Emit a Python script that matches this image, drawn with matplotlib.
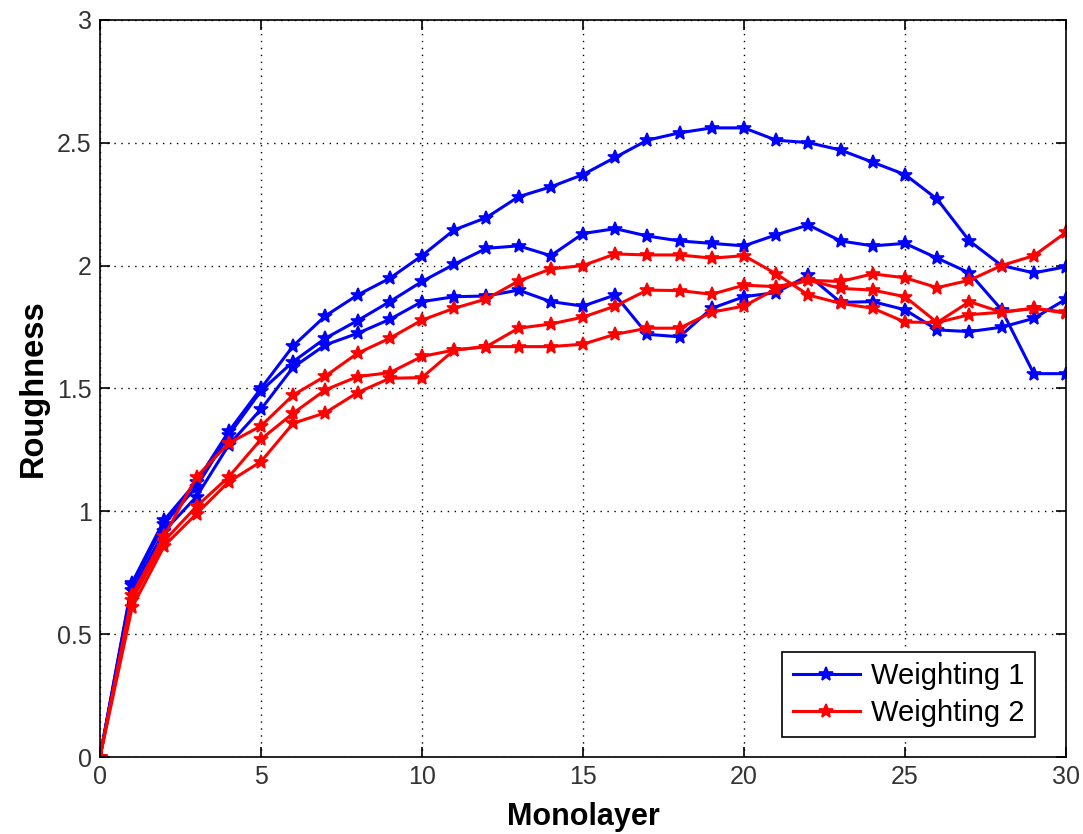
import matplotlib.pyplot as plt
import numpy as np

plt.rcParams['font.family'] = ['Liberation Sans', 'DejaVu Sans']

monolayer = np.arange(0, 31)

# Weighting 1 (three runs)
w1_a = [0, 0.71, 0.965, 1.12, 1.325, 1.50, 1.673, 1.795, 1.88, 1.948, 2.04,
        2.145, 2.195, 2.28, 2.32, 2.37, 2.44, 2.51, 2.54, 2.56, 2.56,
        2.51, 2.50, 2.47, 2.42, 2.37, 2.27, 2.10, 2.00, 1.97, 1.995]
w1_b = [0, 0.70, 0.95, 1.10, 1.31, 1.49, 1.609, 1.704, 1.776, 1.853, 1.935,
        2.005, 2.07, 2.08, 2.04, 2.13, 2.15, 2.12, 2.10, 2.09, 2.08,
        2.125, 2.165, 2.10, 2.08, 2.09, 2.03, 1.97, 1.82, 1.56, 1.56]
w1_c = [0, 0.68, 0.92, 1.06, 1.27, 1.415, 1.586, 1.677, 1.724, 1.781, 1.853,
        1.873, 1.876, 1.90, 1.853, 1.835, 1.88, 1.72, 1.71, 1.826, 1.873,
        1.89, 1.96, 1.85, 1.853, 1.82, 1.738, 1.731, 1.749, 1.785, 1.863]

# Weighting 2 (three runs)
w2_a = [0, 0.66, 0.90, 1.14, 1.277, 1.347, 1.473, 1.55, 1.643, 1.704, 1.778,
        1.826, 1.864, 1.937, 1.986, 2.00, 2.047, 2.043, 2.043, 2.03, 2.04,
        1.966, 1.88, 1.846, 1.826, 1.77, 1.768, 1.80, 1.81, 1.826, 1.806]
w2_b = [0, 0.64, 0.88, 1.02, 1.14, 1.293, 1.399, 1.494, 1.548, 1.564, 1.63,
        1.656, 1.67, 1.745, 1.762, 1.79, 1.835, 1.90, 1.898, 1.883, 1.92,
        1.914, 1.94, 1.935, 1.966, 1.95, 1.91, 1.94, 2.00, 2.04, 2.135]
w2_c = [0, 0.61, 0.86, 0.99, 1.12, 1.202, 1.358, 1.401, 1.483, 1.541, 1.544,
        1.656, 1.67, 1.67, 1.67, 1.68, 1.72, 1.745, 1.745, 1.81, 1.835,
        1.905, 1.94, 1.907, 1.90, 1.873, 1.768, 1.853, 1.81, 1.826, 1.81]

yticks = [0, 0.5, 1, 1.5, 2, 2.5, 3]
ytick_labels = ['0', '0.5', '1', '1.5', '2', '2.5', '3']

fig = plt.figure(figsize=(10.83, 8.34), dpi=100)
ax = fig.add_axes([0.0923, 0.0923, 0.892, 0.884])

for i, y in enumerate([w1_a, w1_b, w1_c]):
    ax.plot(monolayer, y, '-*', color='blue', lw=2.2, ms=10, mew=1.2,
            label='Weighting 1' if i == 0 else None)
for i, y in enumerate([w2_a, w2_b, w2_c]):
    ax.plot(monolayer, y, '-*', color='red', lw=2.2, ms=10, mew=1.2,
            label='Weighting 2' if i == 0 else None)

ax.set_xlim(0, 30)
ax.set_ylim(0, 3)
ax.set_xticks(np.arange(0, 31, 5))
ax.set_yticks(yticks)
ax.set_yticklabels(ytick_labels)
ax.grid(True, color='black', linestyle=(0, (1, 4)), linewidth=1)
ax.tick_params(direction='in', length=7, width=1.2, top=True, right=True,
               labelsize=18, pad=6, labelcolor='#333333')
for s in ax.spines.values():
    s.set_linewidth(1.2)

ax.set_xlabel('Monolayer', fontsize=22, fontweight='bold', labelpad=9)
ax.set_ylabel('Roughness', fontsize=23.5, fontweight='bold', labelpad=6)

leg = ax.legend(loc='lower right', fontsize=21, fancybox=False,
                edgecolor='black', framealpha=1, handlelength=2.3,
                handletextpad=0.4, borderpad=0.35, labelspacing=0.3,
                bbox_to_anchor=(1035 / 1083, 97 / 834),
                bbox_transform=fig.transFigure, borderaxespad=0)
leg.get_frame().set_linewidth(1.2)

fig.savefig('out.png', dpi=100)
